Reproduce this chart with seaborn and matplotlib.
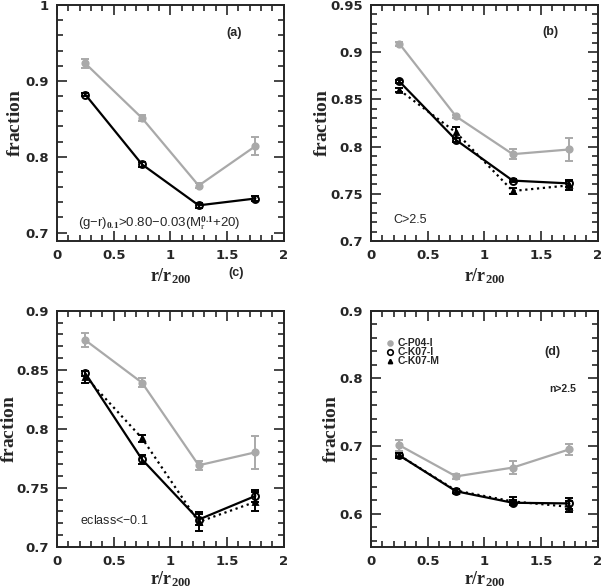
import numpy as np
import pandas as pd
import matplotlib
matplotlib.use("Agg")
import matplotlib.pyplot as plt
from matplotlib.ticker import MultipleLocator, FormatStrFormatter
import seaborn as sns

sns.set_style("ticks")
plt.rcParams['font.family'] = ['Liberation Sans', 'DejaVu Sans']
plt.rcParams['mathtext.fontset'] = 'custom'
plt.rcParams['mathtext.rm'] = 'Liberation Serif:bold'
plt.rcParams['mathtext.it'] = 'Liberation Serif'

radius = [0.25, 0.75, 1.25, 1.75]

# panel (a): colour cut
a_p04 = [0.923, 0.851, 0.762, 0.814]
a_p04_err = [0.006, 0.004, 0.003, 0.012]
a_k07i = [0.882, 0.790, 0.736, 0.745]
a_k07i_err = [0.002, 0.003, 0.003, 0.003]

# panel (b): concentration
b_p04 = [0.909, 0.832, 0.792, 0.797]
b_p04_err = [0.002, 0.002, 0.005, 0.012]
b_k07i = [0.869, 0.807, 0.764, 0.761]
b_k07i_err = [0.002, 0.002, 0.002, 0.004]
b_k07m = [0.860, 0.815, 0.753, 0.759]
b_k07m_err = [0.002, 0.006, 0.003, 0.005]

# panel (c): eclass
c_p04 = [0.875, 0.839, 0.769, 0.780]
c_p04_err = [0.006, 0.004, 0.004, 0.014]
c_k07i = [0.847, 0.774, 0.723, 0.743]
c_k07i_err = [0.002, 0.004, 0.005, 0.005]
c_k07m = [0.844, 0.792, 0.721, 0.738]
c_k07m_err = [0.005, 0.003, 0.008, 0.008]

# panel (d): Sersic index
d_p04 = [0.701, 0.655, 0.668, 0.695]
d_p04_err = [0.008, 0.004, 0.010, 0.008]
d_k07i = [0.686, 0.633, 0.616, 0.615]
d_k07i_err = [0.003, 0.003, 0.004, 0.008]
d_k07m = [0.686, 0.634, 0.618, 0.610]
d_k07m_err = [0.004, 0.003, 0.006, 0.008]

legend_labels = ["C-P04-I", "C-K07-I", "C-K07-M"]
panel_labels = ["(a)", "(b)", "(c)", "(d)"]
cut_labels = [r"(g$-$r)$_{0.1}$>0.80$-$0.03(M$_r^{0.1}$+20)", "C>2.5", "eclass<$-$0.1", "n>2.5"]

GRAY = "#a9a9a9"
BLACK = "black"

fig = plt.figure(figsize=(6.03, 5.88), dpi=100)
W = 0.376
H = 0.4014
axa = fig.add_axes([0.0945, 0.5901, W, H])
axb = fig.add_axes([0.6153, 0.5901, W, H])
axc = fig.add_axes([0.0945, 0.0702, W, H])
axd = fig.add_axes([0.6153, 0.0702, W, H])

def series(ax, y, err, color, ls, marker, ms, mfc, lw=1.6):
    df = pd.DataFrame({"r": radius, "f": y})
    sns.lineplot(data=df, x="r", y="f", ax=ax, color=color, linestyle=ls, lw=lw,
                 marker=marker, markersize=ms, markerfacecolor=mfc,
                 markeredgecolor=color, markeredgewidth=1.4, zorder=3)
    ax.errorbar(radius, y, yerr=err, fmt="none", ecolor=color, elinewidth=1.4,
                capsize=3, capthick=1.4, zorder=4)

def style(ax, ylim, major, minor, ylab_x, xlab_y):
    ax.set_xlim(0, 2)
    ax.set_ylim(*ylim)
    ax.xaxis.set_major_locator(MultipleLocator(0.5))
    ax.xaxis.set_minor_locator(MultipleLocator(0.1))
    ax.yaxis.set_major_locator(MultipleLocator(major))
    ax.yaxis.set_minor_locator(MultipleLocator(minor))
    ax.xaxis.set_major_formatter(FormatStrFormatter('%g'))
    ax.yaxis.set_major_formatter(FormatStrFormatter('%g'))
    ax.tick_params(which="both", direction="in", top=True, right=True, width=1.2,
                   labelsize=9.5, pad=6)
    for lab in ax.get_xticklabels() + ax.get_yticklabels():
        lab.set_fontweight("bold")
        lab.set_family("DejaVu Sans")
    ax.tick_params(which="major", length=7)
    ax.tick_params(which="minor", length=4)
    for s in ax.spines.values():
        s.set_linewidth(1.4)
    ax.set_xlabel(r"$\mathrm{r/r_{200}}$", fontsize=13, va="center")
    ax.set_ylabel(r"$\mathrm{fraction}$", fontsize=14, va="center")
    ax.yaxis.set_label_coords(ylab_x, 0.5)
    ax.xaxis.set_label_coords(0.5, xlab_y)

# (a)
series(axa, a_p04, a_p04_err, GRAY, "-", "o", 4.5, GRAY)
series(axa, a_k07i, a_k07i_err, BLACK, "-", "o", 5, "none")
style(axa, (0.689, 1.0), 0.1, 0.02, -0.185, -0.15)
axa.text(1.56, 0.963, panel_labels[0], fontsize=9, fontweight="bold", ha="center", va="center")
axa.text(0.9, 0.713, cut_labels[0], fontsize=9.5, ha="center", va="center")
axa.text(1.58, 0.647, panel_labels[2], fontsize=9, fontweight="bold", ha="center", va="center", clip_on=False)

# (b)
series(axb, b_p04, b_p04_err, GRAY, "-", "o", 4.5, GRAY)
series(axb, b_k07i, b_k07i_err, BLACK, "-", "o", 5, "none")
series(axb, b_k07m, b_k07m_err, BLACK, ":", "^", 3.5, BLACK)
style(axb, (0.7, 0.95), 0.05, 0.01, -0.215, -0.15)
axb.text(1.58, 0.921, panel_labels[1], fontsize=9, fontweight="bold", ha="center", va="center")
axb.text(0.2, 0.722, cut_labels[1], fontsize=9, ha="left", va="center")

# (c)
series(axc, c_p04, c_p04_err, GRAY, "-", "o", 4.5, GRAY)
series(axc, c_k07i, c_k07i_err, BLACK, "-", "o", 5, "none")
series(axc, c_k07m, c_k07m_err, BLACK, ":", "^", 3.5, BLACK)
style(axc, (0.7, 0.9), 0.05, 0.01, -0.21, -0.137)
axc.text(0.51, 0.722, cut_labels[2], fontsize=9, ha="center", va="center")

# (d)
series(axd, d_p04, d_p04_err, GRAY, "-", "o", 4.5, GRAY)
series(axd, d_k07i, d_k07i_err, BLACK, "-", "o", 5, "none")
series(axd, d_k07m, d_k07m_err, BLACK, ":", "^", 3.5, BLACK)
style(axd, (0.551, 0.9), 0.1, 0.02, -0.175, -0.137)
axd.text(1.6, 0.839, panel_labels[3], fontsize=9, fontweight="bold", ha="center", va="center")
axd.text(1.69, 0.784, cut_labels[3], fontsize=7.5, fontweight="bold", ha="center", va="center")

leg_y = [0.852, 0.839, 0.826]
leg_style = [dict(marker="o", ms=3.5, mfc=GRAY, mec=GRAY),
             dict(marker="o", ms=4, mfc="none", mec=BLACK),
             dict(marker="^", ms=3, mfc=BLACK, mec=BLACK)]
for yy, lab, st in zip(leg_y, legend_labels, leg_style):
    axd.plot([0.17], [yy], ls="none", marker=st["marker"], markersize=st["ms"],
             markerfacecolor=st["mfc"], markeredgecolor=st["mec"], markeredgewidth=1.2)
    axd.text(0.235, yy, lab, fontsize=7.5, fontweight="bold", ha="left", va="center")

fig.savefig("out.png", dpi=100)
